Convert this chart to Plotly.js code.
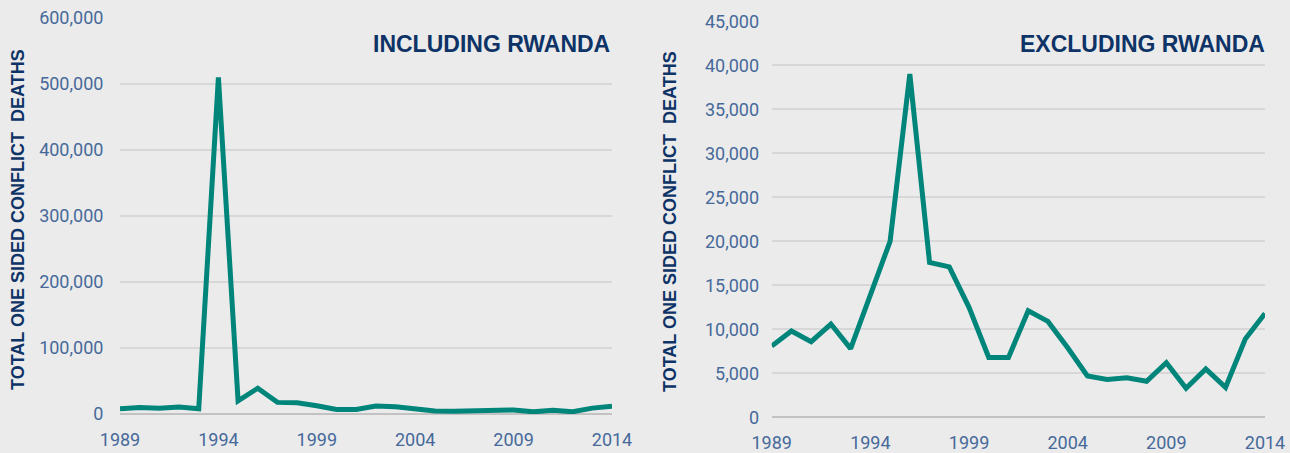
<!DOCTYPE html>
<html>
<head>
<meta charset="utf-8">
<script src="https://cdn.plot.ly/plotly-3.0.1.min.js"></script>
<style>html,body{margin:0;padding:0;background:#ebebeb;}#chart{width:1290px;height:453px;}</style>
</head>
<body>
<div id="chart"></div>
<script>
const years = [1989,1990,1991,1992,1993,1994,1995,1996,1997,1998,1999,2000,2001,2002,2003,2004,2005,2006,2007,2008,2009,2010,2011,2012,2013,2014];
const deathsIncludingRwanda = [8100,9800,8600,10600,7800,510000,20000,39000,17600,17100,12500,6800,6800,12100,10900,7900,4700,4300,4500,4100,6200,3300,5500,3400,8900,11800];
const deathsExcludingRwanda = [8100,9800,8600,10600,7800,14000,20000,39000,17600,17100,12500,6800,6800,12100,10900,7900,4700,4300,4500,4100,6200,3300,5500,3400,8900,11800];
const xTicks = [1989,1994,1999,2004,2009,2014];
const panelTitles = ["INCLUDING RWANDA","EXCLUDING RWANDA"];
const yTitle = "TOTAL ONE SIDED CONFLICT  DEATHS";

const teal = '#00857a';
const navy = '#0e3366';
const tickCol = '#46699a';
const tickFont = {family:'Roboto, sans-serif', size:18, color:tickCol, weight:400};
const headFont = {family:'"Liberation Sans", Arial, sans-serif', size:23, color:navy, weight:700};
const yTitleFont = {family:'"Liberation Sans", Arial, sans-serif', size:18, color:navy, weight:700};

const traces = [
  {x: years, y: deathsIncludingRwanda, type:'scatter', mode:'lines', line:{color:teal, width:5}, xaxis:'x', yaxis:'y', hoverinfo:'x+y'},
  {x: years, y: deathsExcludingRwanda, type:'scatter', mode:'lines', line:{color:teal, width:5}, xaxis:'x2', yaxis:'y2', hoverinfo:'x+y'}
];

function xax(domain, anchor){
  return {domain: domain, anchor: anchor, range:[1989,2014], tickvals: xTicks, ticktext: xTicks.map(String),
    showgrid:false, zeroline:false, showline:false, ticks:'outside', ticklen:9, tickcolor:'rgba(0,0,0,0)',
    tickfont: tickFont, automargin:false, fixedrange:true};
}
function yax(domain, anchor, range, dtick, standoff){
  return {domain: domain, anchor: anchor, range: range, dtick: dtick, tick0:0, tickformat:',d',
    showgrid:true, gridcolor:'#d7d7d7', gridwidth:2, zeroline:true, zerolinecolor:'#c2c2c2', zerolinewidth:2,
    showline:false, ticks:'outside', ticklen:standoff, tickcolor:'rgba(0,0,0,0)',
    tickfont: tickFont, automargin:false, fixedrange:true};
}

const layout = {
  width:1290, height:453,
  margin:{l:0, r:0, t:0, b:0},
  paper_bgcolor:'#ebebeb', plot_bgcolor:'#ebebeb',
  showlegend:false,
  xaxis: xax([120/1290, 612/1290], 'y'),
  yaxis: yax([39/453, 435/453], 'x', [0,600000], 100000, 12),
  xaxis2: xax([771.7/1290, 1265/1290], 'y2'),
  yaxis2: yax([35.7/453, 431.7/453], 'x2', [0,45000], 5000, 8),
  annotations: [
    {text: panelTitles[0], xref:'paper', yref:'paper', x:612/1290, y:(453-44)/453, xanchor:'right', yanchor:'middle', showarrow:false, font: headFont},
    {text: panelTitles[1], xref:'paper', yref:'paper', x:1267/1290, y:(453-44)/453, xanchor:'right', yanchor:'middle', showarrow:false, font: headFont},
    {text: yTitle, xref:'paper', yref:'paper', x:18/1290, y:(453-220)/453, xanchor:'center', yanchor:'middle', textangle:-90, showarrow:false, font: yTitleFont},
    {text: yTitle, xref:'paper', yref:'paper', x:670/1290, y:(453-222)/453, xanchor:'center', yanchor:'middle', textangle:-90, showarrow:false, font: yTitleFont}
  ]
};

Plotly.newPlot('chart', traces, layout, {displayModeBar:false, staticPlot:false});
</script>
</body>
</html>
